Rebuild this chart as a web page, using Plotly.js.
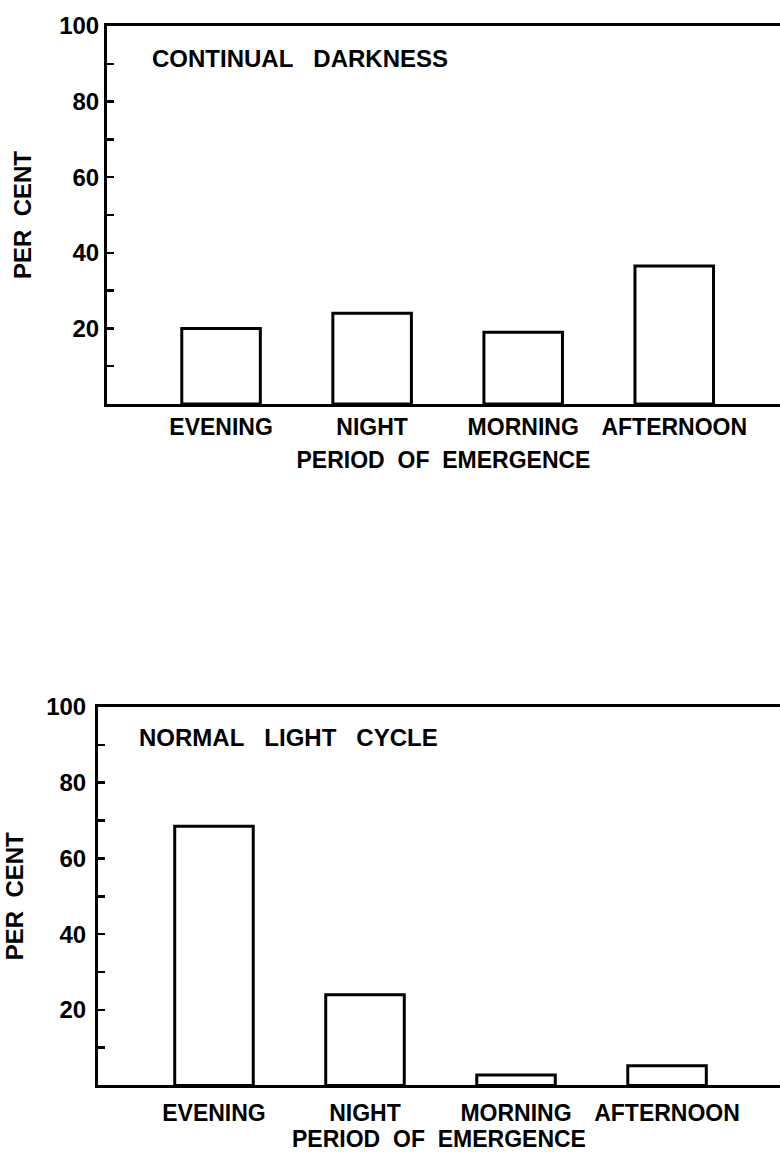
<!DOCTYPE html>
<html>
<head>
<meta charset="utf-8">
<script src="https://cdn.plot.ly/plotly-3.0.1.min.js"></script>
<style>
  html, body { margin: 0; padding: 0; background: #fff; }
  #chart { width: 780px; height: 1157px; }
</style>
</head>
<body>
<div id="chart"></div>
<script>
// emergence periods, per cent of emergence in each
let periods = ['EVENING', 'NIGHT', 'MORNING', 'AFTERNOON'];
let darknessPct = [20, 24, 19, 36.5];
let lightCyclePct = [68.5, 24, 2.8, 5.2];

let yTickVals = [10, 20, 30, 40, 50, 60, 70, 80, 90, 100];
let yTickText = ['', '20', '', '40', '', '60', '', '80', '', '100'];

let font = 'Liberation Sans, Arial, sans-serif';
let sp2 = '\u00a0\u00a0';
let sp3 = '\u00a0\u00a0\u00a0';

function barTrace(vals, xa, ya) {
  return {
    type: 'bar',
    x: periods,
    y: vals,
    xaxis: xa,
    yaxis: ya,
    width: 0.52,
    marker: {color: '#ffffff', line: {color: '#000000', width: 3}},
    hoverinfo: 'x+y'
  };
}

function xAxis(domain, anchor, range, labelGap, titleGap) {
  return {
    domain: domain,
    anchor: anchor,
    type: 'category',
    range: range,
    showline: true,
    linecolor: '#000',
    linewidth: 3,
    mirror: true,
    ticks: '',
    ticklabelstandoff: labelGap,
    showgrid: false,
    zeroline: false,
    tickfont: {family: font, size: 23, weight: 'bold', color: '#000'},
    automargin: false,
    title: {
      text: 'PERIOD' + sp2 + 'OF' + sp2 + 'EMERGENCE',
      font: {family: font, size: 23, weight: 'bold', color: '#000'},
      standoff: titleGap
    }
  };
}

function yAxis(domain, anchor, labelGap, titleGap) {
  return {
    domain: domain,
    anchor: anchor,
    range: [0, 100],
    tickmode: 'array',
    tickvals: yTickVals,
    ticktext: yTickText,
    ticks: 'inside',
    ticklen: 7,
    tickwidth: 2.5,
    tickcolor: '#000',
    ticklabelstandoff: labelGap,
    showline: true,
    linecolor: '#000',
    linewidth: 3,
    mirror: false,
    showgrid: false,
    zeroline: false,
    tickfont: {family: font, size: 24, weight: 'bold', color: '#000'},
    automargin: false,
    title: {
      text: 'PER' + sp2 + 'CENT',
      font: {family: font, size: 24, weight: 'bold', color: '#000'},
      standoff: titleGap
    }
  };
}

let data = [
  barTrace(darknessPct, 'x', 'y'),
  barTrace(lightCyclePct, 'x2', 'y2')
];

let layout = {
  width: 780,
  height: 1157,
  margin: {l: 0, r: 0, t: 0, b: 0},
  paper_bgcolor: '#fff',
  plot_bgcolor: '#fff',
  showlegend: false,
  xaxis: xAxis([107 / 780, 1], 'y', [-0.755, 3.70], 0, 14),
  yaxis: yAxis([0.6508, 0.9775], 'x', 0, 21),
  xaxis2: xAxis([98 / 780, 1], 'y2', [-0.768, 3.748], 5, 6),
  yaxis2: yAxis([0.0618, 0.3889], 'x2', 4, 16),
  annotations: [
    {
      text: 'CONTINUAL' + sp3 + 'DARKNESS',
      xref: 'x domain', yref: 'y domain',
      x: 0.064, y: 0.913, xanchor: 'left', yanchor: 'middle',
      showarrow: false,
      font: {family: font, size: 24, weight: 'bold', color: '#000'}
    },
    {
      text: 'NORMAL' + sp3 + 'LIGHT' + sp3 + 'CYCLE',
      xref: 'x2 domain', yref: 'y2 domain',
      x: 0.057, y: 0.92, xanchor: 'left', yanchor: 'middle',
      showarrow: false,
      font: {family: font, size: 24, weight: 'bold', color: '#000'}
    }
  ]
};

Plotly.newPlot('chart', data, layout, {displayModeBar: false, staticPlot: true});
</script>
</body>
</html>
